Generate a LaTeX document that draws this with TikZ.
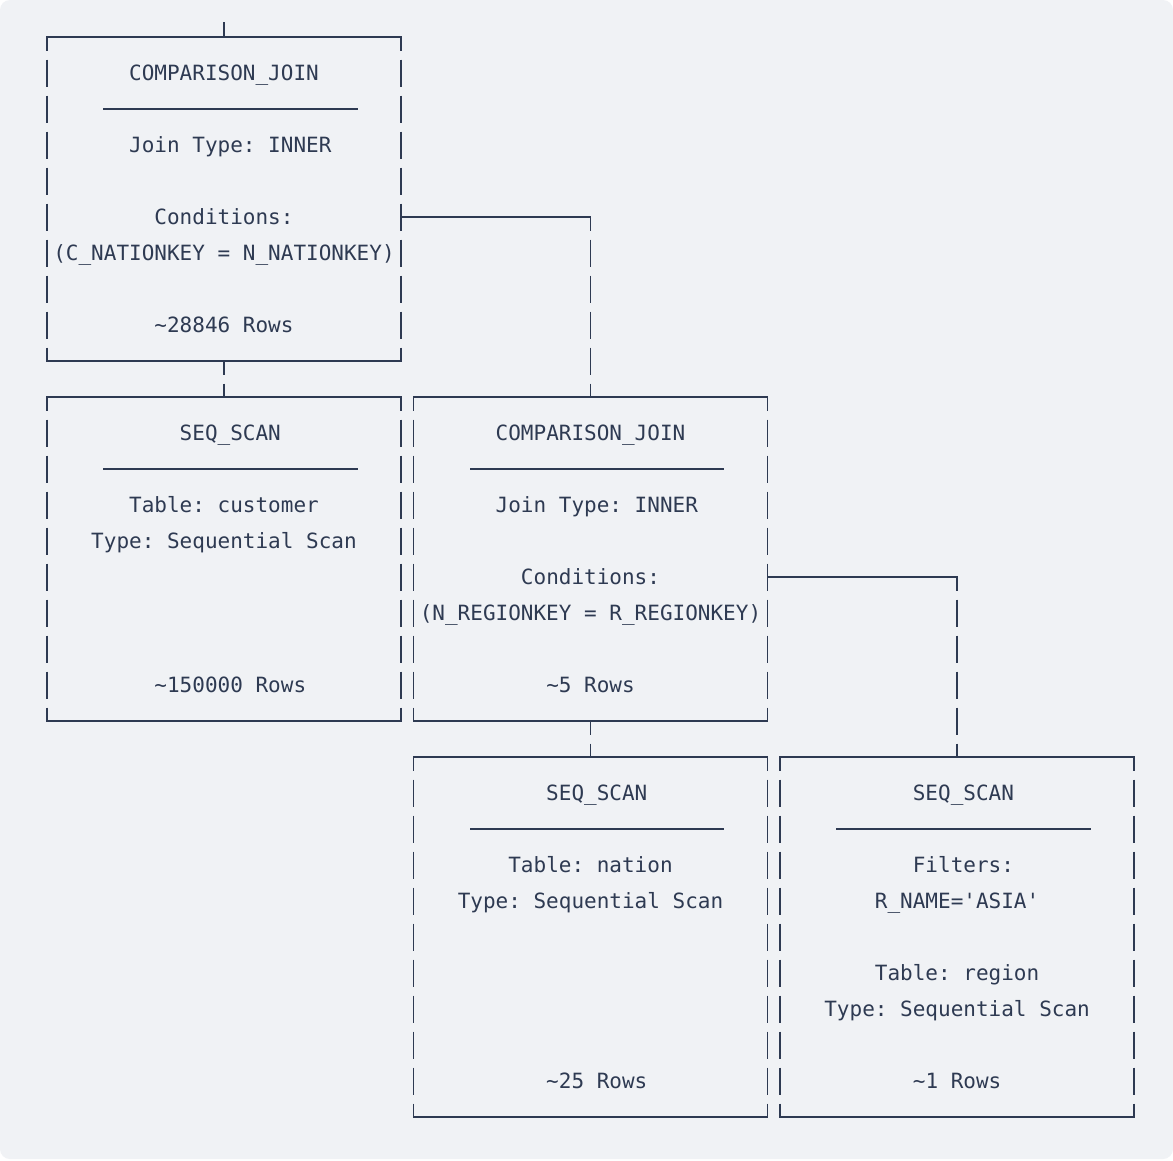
\documentclass[tikz,border=0pt]{standalone}
\usepackage{fontspec}
\setmonofont{DejaVu Sans Mono}
\usepackage{tikz}
\usetikzlibrary{
    positioning
}
\definecolor{planink}{HTML}{2E3A52}
\definecolor{planbg}{HTML}{F0F2F5}
\tikzset{
    planbox/.style={
        draw=none,
        inner sep=0pt,
        outer sep=0pt,
        anchor=north west,
        minimum width=353.92pt
    },
    planline/.style={
        draw=planink,
        line width=1.8pt,
        line cap=rect
    },
    planvert/.style={
        draw=planink,
        line width=1.8pt,
        dash pattern=on 27pt off 9pt,
        dash phase=13.5pt
    },
    plantext/.style={
        font=\ttfamily\fontsize{21}{25}\selectfont,
        text=planink,
        inner sep=0pt,
        anchor=base
    }
}
\newcommand{\planframe}[1]{%
    \draw[planline] (#1.north west) -- (#1.north east);
    \draw[planline] (#1.south west) -- (#1.south east);
    \draw[planvert] (#1.north west) -- (#1.south west);
    \draw[planvert] (#1.north east) -- (#1.south east);
}

\begin{document}
\begin{tikzpicture}[
    x=1pt,
    y=-1pt
]

    % Fondo
    \useasboundingbox (0,0) rectangle (1173,1160);
    \fill[white] (0,0) rectangle (1173,1160);
    \fill[planbg, rounded corners=10pt] (0,0) rectangle (1173,1159);

    % Operadores
    \node[planbox, minimum height=324pt] (join1) at (47,37)      {};
    \node[planbox, minimum height=324pt] (scan1) at (47,397)     {};
    \node[planbox, minimum height=324pt] (join2) at (413.56,397) {};
    \node[planbox, minimum height=360pt] (scan2) at (413.56,757) {};
    \node[planbox, minimum height=360pt] (scan3) at (780.12,757) {};

    \planframe{join1}
    \planframe{scan1}
    \planframe{join2}
    \planframe{scan2}
    \planframe{scan3}

    % COMPARISON_JOIN superior
    \node[plantext] (j1name) at (224.0,80)  {COMPARISON\_JOIN};
    \draw[planline] (103.9,109) -- (356.7,109);
    \node[plantext] (j1type) at (230.3,152) {Join Type: INNER};
    \node[plantext] (j1cond) at (224.0,224) {Conditions:};
    \node[plantext] (j1expr) at (224.0,260) {(C\_NATIONKEY = N\_NATIONKEY)};
    \node[plantext] (j1rows) at (224.0,332) {\textasciitilde 28846 Rows};

    % SEQ_SCAN customer
    \node[plantext] (s1name) at (230.3,440) {SEQ\_SCAN};
    \draw[planline] (103.9,469) -- (356.7,469);
    \node[plantext] (s1tab)  at (224.0,512) {Table: customer};
    \node[plantext] (s1type) at (224.0,548) {Type: Sequential Scan};
    \node[plantext] (s1rows) at (230.3,692) {\textasciitilde 150000 Rows};

    % COMPARISON_JOIN inferior
    \node[plantext] (j2name) at (590.5,440) {COMPARISON\_JOIN};
    \draw[planline] (470.4,469) -- (723.3,469);
    \node[plantext] (j2type) at (596.8,512) {Join Type: INNER};
    \node[plantext] (j2cond) at (590.5,584) {Conditions:};
    \node[plantext] (j2expr) at (590.5,620) {(N\_REGIONKEY = R\_REGIONKEY)};
    \node[plantext] (j2rows) at (590.5,692) {\textasciitilde 5 Rows};

    % SEQ_SCAN nation
    \node[plantext] (s2name) at (596.8,800)  {SEQ\_SCAN};
    \draw[planline] (470.4,829) -- (723.3,829);
    \node[plantext] (s2tab)  at (590.5,872)  {Table: nation};
    \node[plantext] (s2type) at (590.5,908)  {Type: Sequential Scan};
    \node[plantext] (s2rows) at (596.8,1088) {\textasciitilde 25 Rows};

    % SEQ_SCAN region
    \node[plantext] (s3name) at (963.4,800)  {SEQ\_SCAN};
    \draw[planline] (837.0,829) -- (1089.8,829);
    \node[plantext] (s3filt) at (963.4,872)  {Filters:};
    \node[plantext] (s3expr) at (957.1,908)  {R\_NAME='ASIA'};
    \node[plantext] (s3tab)  at (957.1,980)  {Table: region};
    \node[plantext] (s3type) at (957.1,1016) {Type: Sequential Scan};
    \node[plantext] (s3rows) at (957.1,1088) {\textasciitilde 1 Rows};

    % Conexiones
    \coordinate (entrada) at (224.0,23);
    \coordinate (j1out) at ([yshift=-180pt]join1.north east);
    \coordinate (j2out) at ([yshift=-180pt]join2.north east);

    \draw[planline] (entrada) -- (join1.north);
    \draw[planvert] (join1.south) -- (scan1.north);
    \draw[planline] (j1out) -- (j1out -| join2.north);
    \draw[planvert] (j1out -| join2.north) -- (join2.north);
    \draw[planvert] (join2.south) -- (scan2.north);
    \draw[planline] (j2out) -- (j2out -| scan3.north);
    \draw[planvert] (j2out -| scan3.north) -- (scan3.north);

\end{tikzpicture}
\end{document}
